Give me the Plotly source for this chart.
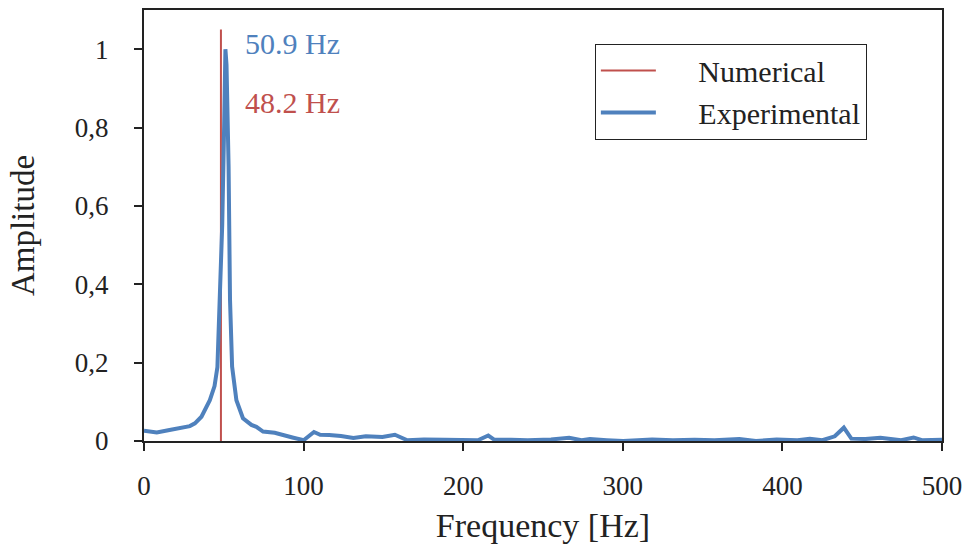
import plotly.graph_objects as go

freq = [0, 8, 16, 24.6, 28.7, 31.9, 36, 41.25, 44.2, 46, 47.7, 49.0, 50.2, 50.6, 51.0, 51.7, 52.4, 53.0, 53.9, 55.2, 57.9,
        62, 67.3, 70.4, 74.6, 81.9, 93, 100,
        106.5, 110.4, 116, 123.4, 131.2, 139, 149.4, 157.2, 165, 175.4, 188.4, 200, 209.2, 215.7, 219.6, 230, 240.4, 255,
        266.4, 274.2, 279.4, 290, 300.2, 318.4, 331.4, 345, 357.4, 373, 383.4, 396.4, 409.4, 417.2, 425, 432.8, 438.5,
        443.2, 452, 461.4, 474.4, 482.2, 487.4, 500]
amp = [0.026, 0.022, 0.028, 0.036, 0.038, 0.045, 0.062, 0.104, 0.14, 0.189, 0.36, 0.55, 0.80, 0.96, 1.0, 0.96, 0.85, 0.70,
       0.36, 0.19, 0.104,
       0.058, 0.041, 0.036, 0.024, 0.021, 0.009, 0.002,
       0.023, 0.016, 0.015, 0.013, 0.008, 0.012, 0.010, 0.016, 0.002, 0.004, 0.003, 0.003, 0.002, 0.014, 0.003, 0.003, 0.002,
       0.004, 0.008, 0.002, 0.005, 0.002, 0.0, 0.004, 0.002, 0.003, 0.002, 0.005, 0.0, 0.004, 0.002, 0.006, 0.002, 0.012,
       0.034, 0.006, 0.005, 0.008, 0.002, 0.009, 0.002, 0.003]

num_freq = 48.2
exp_freq = 50.9
num_line_top = 1.05

xticks = [0, 100, 200, 300, 400, 500]
yticks = [0, 0.2, 0.4, 0.6, 0.8, 1.0]
ytick_text = ["0", "0,2", "0,4", "0,6", "0,8", "1"]

FONT = "Liberation Serif"
RED = "#C0504D"
BLUE = "#4F81BD"
INK = "#222"
GAP = "\u00a0" * 5

fig = go.Figure()
fig.add_trace(go.Scatter(x=[num_freq, num_freq], y=[0, num_line_top], mode="lines",
                         line=dict(color=RED, width=2), name=GAP + "Numerical"))
fig.add_trace(go.Scatter(x=freq, y=amp, mode="lines",
                         line=dict(color=BLUE, width=4), name=GAP + "Experimental"))

fig.add_annotation(x=exp_freq + 11.0, y=1.015, text=f"{exp_freq} Hz", showarrow=False, xanchor="left",
                   font=dict(family=FONT, size=30, color=BLUE))
fig.add_annotation(x=exp_freq + 11.0, y=0.865, text=f"{num_freq} Hz", showarrow=False, xanchor="left",
                   font=dict(family=FONT, size=30, color=RED))

fig.update_layout(
    width=970, height=546,
    margin=dict(l=144, r=26, t=8, b=105),
    paper_bgcolor="white", plot_bgcolor="white",
    font=dict(family=FONT, size=26, color=INK),
    showlegend=True,
    legend=dict(x=0.565, y=0.922, xanchor="left", yanchor="top",
                bordercolor=INK, borderwidth=1, bgcolor="white",
                font=dict(family=FONT, size=30, color=INK),
                itemwidth=55, tracegroupgap=0),
)
fig.update_xaxes(range=[0, 500], tickvals=xticks, ticks="outside", ticklen=8, tickwidth=2, tickcolor=INK,
                 showline=True, linecolor=INK, linewidth=2, mirror=True, showgrid=False, zeroline=False,
                 ticklabelstandoff=12,
                 title=dict(text="Frequency [Hz]", font=dict(family=FONT, size=34), standoff=13),
                 tickfont=dict(family=FONT, size=27))
fig.update_yaxes(range=[0, 1.1], tickvals=yticks, ticktext=ytick_text, ticks="outside", ticklen=8, tickwidth=2,
                 tickcolor=INK, showline=True, linecolor=INK, linewidth=2, mirror=True, showgrid=False,
                 zeroline=False, ticklabelstandoff=20,
                 title=dict(text="Amplitude", font=dict(family=FONT, size=33), standoff=30),
                 tickfont=dict(family=FONT, size=27))

fig.write_html("out.html")
